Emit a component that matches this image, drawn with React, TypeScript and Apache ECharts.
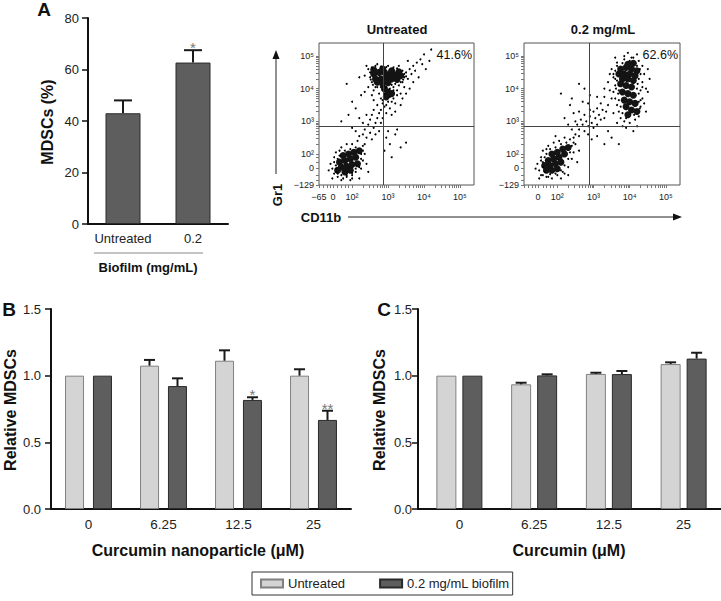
import React, { useEffect, useRef } from 'react';
import * as echarts from 'echarts';

const FONT = '"Liberation Sans", Arial, Helvetica, sans-serif';

// ---------- Panel A ----------
const aCategories = ['Untreated', '0.2'];
const aValues = [43, 62.7];
const aErrTop = [48, 67.5];
const aSig = ['', '*'];

// ---------- Panels B & C ----------
const doseCategories = ['0', '6.25', '12.5', '25'];
const bUntreated = [1.0, 1.075, 1.112, 1.0];
const bUntreatedErr = [1.0, 1.118, 1.19, 1.048];
const bBiofilm = [1.0, 0.922, 0.818, 0.668];
const bBiofilmErr = [1.0, 0.98, 0.838, 0.737];
const bSig = ['', '', '*', '**'];

const cUntreated = [1.0, 0.935, 1.013, 1.087];
const cUntreatedErr = [1.0, 0.947, 1.022, 1.1];
const cBiofilm = [1.0, 1.002, 1.012, 1.128];
const cBiofilmErr = [1.0, 1.01, 1.035, 1.172];

// ---------- Flow cytometry (axis units = decades) ----------
const flowXTicks = [1.08, 1.47, 2, 3, 4, 5];
const flowXTickLabels = ['\u221265', '0', '10\u00b2', '10\u00b3', '10\u2074', '10\u2075'];
const flowYTicks = [1.05, 1.57, 2, 3, 4, 5];
const flowYTickLabels = ['\u2212129', '0', '10\u00b2', '10\u00b3', '10\u2074', '10\u2075'];
const quadrantX = 2.87;
const quadrantY = 2.85;
const flowPercents = ['41.6%', '62.6%'];
const flowTitles = ['Untreated', '0.2 mg/mL'];

const untreatedCore = [
  [2.6, 4.45], [2.75, 4.5], [2.9, 4.5], [3.05, 4.45], [3.2, 4.42], [3.35, 4.4], [2.65, 4.3], [2.8, 4.3],
  [2.95, 4.32], [3.1, 4.3], [3.25, 4.28], [2.7, 4.2], [2.85, 4.15], [3.0, 4.18], [2.6, 4.58], [2.85, 4.6],
  [3.1, 4.55], [3.3, 4.52], [2.9, 4.0], [3.0, 3.9], [2.95, 3.75], [3.1, 3.85],
  [1.65, 1.75], [1.8, 1.8], [1.95, 1.85], [2.1, 1.9], [1.7, 1.6], [1.85, 1.62], [2.0, 1.68], [1.75, 1.95],
  [1.9, 2.0], [2.05, 2.05], [1.6, 1.5], [1.8, 1.45], [1.95, 1.5], [2.15, 1.7], [2.2, 2.1],
];
const untreatedCells = [
  [2.45, 4.6], [2.5, 4.35], [2.55, 4.2], [2.45, 4.05], [2.6, 3.95], [2.7, 4.05], [2.75, 3.85], [2.8, 3.7],
  [2.85, 3.55], [2.9, 3.45], [3.0, 3.6], [3.05, 3.4], [3.15, 3.7], [3.2, 3.55], [3.25, 3.95], [3.3, 4.1],
  [3.4, 4.2], [3.45, 4.35], [3.5, 4.5], [3.55, 4.3], [3.6, 4.6], [3.65, 4.45], [3.7, 4.7], [3.75, 4.55],
  [3.8, 4.8], [3.9, 4.9], [3.95, 4.75], [4.0, 5.05], [4.05, 4.6], [3.85, 4.35], [3.7, 4.2], [3.6, 4.0],
  [3.5, 3.85], [3.4, 3.7], [3.35, 3.5], [3.2, 3.3], [3.1, 3.2], [2.95, 3.25], [2.8, 3.35], [2.7, 3.5],
  [2.6, 3.65], [2.55, 3.8], [2.4, 4.7], [2.7, 4.75], [3.0, 4.7], [3.3, 4.7], [2.35, 4.4], [3.45, 4.05],
  [3.15, 4.05], [2.95, 4.05], [3.35, 3.85], [2.35, 3.9], [4.15, 4.85], [4.2, 5.2], [3.55, 4.85], [2.2, 4.35],
  [2.5, 4.5], [2.55, 4.65], [2.65, 4.7], [2.8, 4.68], [2.95, 4.66], [3.15, 4.65], [3.25, 4.62], [3.4, 4.55],
  [3.45, 4.45], [3.5, 4.38], [3.42, 4.28], [3.35, 4.2], [3.2, 4.15], [3.1, 4.12], [2.52, 4.28], [2.58, 4.12],
  [2.65, 4.05], [2.8, 4.05], [2.85, 3.95], [3.05, 4.0], [3.15, 3.95], [2.9, 3.85], [3.05, 3.75], [2.85, 3.65],
  [3.1, 3.6], [2.95, 3.5], [3.25, 3.8],
  [1.4, 1.7], [1.45, 1.55], [1.5, 1.4], [1.5, 1.9], [1.55, 2.05], [1.6, 1.3], [1.7, 1.2], [1.85, 1.3],
  [2.0, 1.35], [2.1, 1.45], [2.25, 1.55], [2.3, 1.8], [2.35, 2.0], [2.3, 2.25], [1.7, 2.2], [1.85, 2.3],
  [2.0, 2.3], [2.15, 2.4], [1.55, 1.65], [1.65, 2.1], [2.4, 1.7], [1.45, 1.25], [1.35, 1.5], [2.45, 1.45],
  [1.95, 1.2], [2.2, 1.25],
  [1.5, 1.75], [1.55, 1.55], [1.6, 1.4], [1.7, 1.35], [1.85, 1.35], [2.0, 1.42], [2.1, 1.55], [2.2, 1.6],
  [2.25, 1.85], [2.25, 2.0], [2.1, 2.2], [1.95, 2.15], [1.8, 2.1], [1.65, 1.95], [1.6, 1.85], [2.3, 2.1],
  [2.35, 2.3], [2.0, 1.25], [1.75, 1.25], [1.55, 1.45],
  [2.2, 2.55], [2.3, 2.6], [2.35, 2.75], [2.45, 2.9], [2.5, 3.05], [2.55, 3.2], [2.6, 3.35], [2.4, 2.5],
  [2.5, 2.65], [2.6, 2.8], [2.65, 2.95], [2.7, 3.1], [2.75, 3.25], [2.3, 2.95], [2.4, 3.2], [2.2, 3.1],
  [2.55, 2.45], [2.65, 2.6], [2.75, 2.7], [2.8, 2.95], [2.85, 3.1], [2.1, 2.7], [2.0, 2.8],
  [2.95, 2.5], [3.05, 2.3], [3.2, 2.6], [3.35, 2.2], [3.5, 2.35], [3.1, 1.9], [3.0, 2.7], [3.25, 2.75], [2.9, 2.1],
  [1.9, 3.2], [2.1, 3.4], [1.7, 3.0], [2.0, 3.6], [2.25, 3.8], [1.85, 4.15],
];

const biofilmCore = [
  [3.75, 4.6], [3.9, 4.65], [4.05, 4.6], [4.2, 4.55], [3.7, 4.45], [3.85, 4.45], [4.0, 4.45], [4.15, 4.4],
  [3.8, 4.3], [3.95, 4.3], [4.1, 4.25], [3.75, 4.15], [3.9, 4.1], [4.05, 4.05], [3.95, 4.75], [4.1, 4.78],
  [3.8, 3.9], [3.95, 3.85], [4.1, 3.8], [3.85, 3.65], [4.0, 3.6], [4.15, 3.55], [3.9, 3.45], [4.05, 3.35],
  [4.2, 3.3], [3.95, 3.2],
  [1.75, 1.8], [1.9, 1.85], [2.05, 1.9], [2.2, 2.0], [1.8, 1.65], [1.95, 1.7], [2.1, 1.75], [1.85, 2.0],
  [2.0, 2.05], [2.15, 2.15], [1.7, 1.5], [1.85, 1.5], [2.0, 1.55], [2.3, 2.2], [1.65, 1.65],
];
const biofilmCells = [
  [3.5, 4.6], [3.55, 4.35], [3.6, 4.1], [3.55, 3.9], [3.6, 3.7], [3.65, 3.5], [3.7, 3.3], [3.75, 3.1],
  [3.85, 3.0], [4.0, 2.95], [4.15, 3.05], [4.25, 3.15], [4.3, 3.45], [4.35, 3.7], [4.3, 3.95], [4.35, 4.2],
  [4.4, 4.45], [4.35, 4.7], [4.25, 4.85], [4.05, 4.95], [3.85, 4.9], [3.65, 4.8], [3.45, 4.45], [3.4, 4.2],
  [3.45, 3.95], [3.5, 3.7], [3.4, 3.5], [3.55, 3.25], [3.9, 2.8], [4.1, 2.7], [4.2, 2.85], [4.45, 3.3],
  [4.5, 3.9], [4.55, 4.3], [4.5, 4.6], [4.2, 5.05], [3.95, 5.1], [3.6, 4.95], [3.3, 4.0], [3.3, 3.75],
  [3.35, 3.3], [3.65, 2.95], [4.45, 4.0], [4.25, 3.6], [3.7, 3.95], [3.65, 4.25], [4.4, 3.55], [3.8, 2.85],
  [3.6, 4.55], [3.65, 4.7], [3.8, 4.78], [4.0, 4.85], [4.2, 4.7], [4.28, 4.6], [4.3, 4.45], [4.25, 4.3],
  [4.22, 4.15], [4.2, 4.0], [4.25, 3.85], [4.3, 3.65], [4.28, 3.4], [4.12, 3.2], [3.9, 3.1], [3.8, 3.25],
  [3.75, 3.45], [3.7, 3.65], [3.68, 3.85], [3.62, 4.0], [3.6, 4.3], [3.7, 4.1], [4.1, 4.95], [3.85, 5.0],
  [3.55, 4.45], [4.35, 4.05],
  [1.45, 1.7], [1.5, 1.5], [1.55, 1.35], [1.55, 1.9], [1.6, 2.1], [1.7, 1.3], [1.85, 1.25], [2.0, 1.35],
  [2.15, 1.45], [2.3, 1.6], [2.4, 1.85], [2.45, 2.05], [2.5, 2.3], [2.45, 2.5], [1.75, 2.25], [1.9, 2.35],
  [2.05, 2.4], [2.2, 2.5], [2.35, 2.45], [1.6, 1.75], [1.7, 2.15], [2.55, 1.75], [1.5, 1.25], [1.4, 1.55],
  [2.6, 2.1], [2.1, 1.25], [2.3, 1.35], [1.95, 2.55],
  [1.55, 1.8], [1.6, 1.6], [1.65, 1.45], [1.8, 1.38], [1.95, 1.4], [2.1, 1.5], [2.2, 1.65], [2.3, 1.85],
  [2.35, 2.05], [2.4, 2.25], [2.25, 2.35], [2.1, 2.3], [1.95, 2.2], [1.8, 2.15], [1.7, 2.0], [1.65, 1.9],
  [2.45, 2.35], [2.2, 1.4], [1.75, 1.3], [1.6, 1.35],
  [2.5, 2.6], [2.6, 2.75], [2.7, 2.9], [2.8, 3.0], [2.9, 3.15], [3.0, 3.3], [3.1, 3.4], [3.2, 3.55],
  [2.6, 2.55], [2.75, 2.7], [2.85, 2.85], [2.95, 2.95], [3.05, 3.1], [3.15, 3.2], [3.25, 3.35], [2.55, 2.9],
  [2.65, 3.05], [2.75, 3.2], [2.9, 3.35], [3.0, 2.8], [3.1, 2.9], [3.2, 3.05], [2.4, 2.75], [2.5, 3.0],
  [2.85, 2.6], [3.3, 3.1], [2.95, 2.45], [3.1, 2.55], [3.4, 2.7], [2.3, 2.9], [2.6, 3.3], [2.45, 3.25],
  [2.2, 3.1], [3.5, 2.5], [3.7, 2.3], [3.3, 2.3], [2.85, 3.55], [2.7, 3.6], [2.35, 3.5],
  [2.4, 3.7], [2.1, 3.85], [2.9, 3.8], [2.6, 4.15], [3.1, 3.75], [2.75, 4.0],
];

const LIGHT = '#d4d4d4';
const LIGHT_BORDER = '#808080';
const DARK = '#5e5e5e';
const DARK_BORDER = '#2a2a2a';

function errorSeries(xi: number, yi: number, values: number[], tops: number[], offset: number, capW: number, sig: string[] | null) {
  return {
    type: 'custom',
    xAxisIndex: xi,
    yAxisIndex: yi,
    silent: true,
    z: 5,
    data: values.map((v, i) => [i, v, tops[i]]),
    renderItem: (params: any, api: any) => {
      const i = api.value(0);
      const v = api.value(1);
      const t = api.value(2);
      const base = api.coord([i, v]);
      const top = api.coord([i, t]);
      const cx = base[0] + offset;
      const children: any[] = [];
      if (t > v) {
        children.push({ type: 'line', shape: { x1: cx, y1: base[1], x2: cx, y2: top[1] }, style: { stroke: '#1a1a1a', lineWidth: 2 } });
        children.push({ type: 'line', shape: { x1: cx - capW / 2, y1: top[1], x2: cx + capW / 2, y2: top[1] }, style: { stroke: '#1a1a1a', lineWidth: 2 } });
      }
      const s = sig ? sig[params.dataIndex] : '';
      if (s) {
        children.push({ type: 'text', x: cx, y: top[1] + 5, style: { text: s, fill: '#777', fontSize: 15, fontFamily: FONT, align: 'center', verticalAlign: 'bottom' } });
      }
      return { type: 'group', children };
    },
  };
}

const minorTicks: number[] = [1.08, 1.2, 1.3, 1.4, 1.47, 1.6, 1.7, 1.8, 1.9];
[2, 3, 4].forEach((d) => {
  minorTicks.push(d);
  for (let k = 2; k <= 9; k++) minorTicks.push(d + Math.log10(k));
});
minorTicks.push(5);

function flowAxes(grid: number, showNeg: boolean) {
  const xVals = showNeg ? flowXTicks : flowXTicks.slice(1);
  const xAxis = {
    type: 'value', gridIndex: grid, min: 1.08, max: 5.39,
    axisLine: { show: false },
    splitLine: { show: false },
    axisTick: { show: true, inside: false, length: 3, customValues: minorTicks, lineStyle: { color: '#777', width: 1 } },
    axisLabel: {
      customValues: xVals, fontSize: 9, color: '#222', margin: 7, fontFamily: FONT,
      formatter: (v: number) => {
        const k = flowXTicks.findIndex((t) => Math.abs(t - v) < 1e-6);
        return k >= 0 ? flowXTickLabels[k] : '';
      },
    },
  };
  const yTickVals = [1.05, 1.2, 1.35, 1.57, 1.75, 1.9, ...minorTicks.filter((t) => t >= 2)];
  const yAxis = {
    type: 'value', gridIndex: grid, min: 1.05, max: 5.4,
    axisLine: { show: false },
    splitLine: { show: false },
    axisTick: { show: true, inside: false, length: 3, customValues: yTickVals, lineStyle: { color: '#777', width: 1 } },
    axisLabel: {
      customValues: flowYTicks, fontSize: 9, color: '#222', margin: 5, fontFamily: FONT,
      formatter: (v: number) => {
        const k = flowYTicks.findIndex((t) => Math.abs(t - v) < 1e-6);
        return k >= 0 ? flowYTickLabels[k] : '';
      },
    },
  };
  return { xAxis, yAxis };
}

function flowSeries(grid: number, core: number[][], cells: number[][]) {
  return [
    {
      type: 'scatter', xAxisIndex: grid, yAxisIndex: grid, silent: true,
      data: core, symbol: 'circle', symbolSize: 7,
      itemStyle: { color: '#141414', opacity: 1 },
    },
    {
      type: 'scatter', xAxisIndex: grid, yAxisIndex: grid, silent: true,
      data: cells, symbol: 'circle', symbolSize: 2,
      itemStyle: { color: '#000', opacity: 1 },
      markLine: {
        silent: true, symbol: 'none', label: { show: false },
        lineStyle: { color: '#444', width: 1, type: 'solid' },
        data: [{ xAxis: quadrantX }, { yAxis: quadrantY }],
      },
    },
  ];
}

export default function App() {
  const ref = useRef<HTMLDivElement>(null);
  useEffect(() => {
    if (!ref.current) return;
    const chart = echarts.init(ref.current, null, { renderer: 'svg' });
    const f1 = flowAxes(1, true);
    const f2 = flowAxes(2, false);
    const barAxisLine = { lineStyle: { color: '#111', width: 2 } };
    const barTick = { lineStyle: { color: '#111', width: 1.5 }, length: 6 };
    const catAxis = (grid: number, data: string[], fontSize: number) => ({
      type: 'category', gridIndex: grid, data,
      axisLine: barAxisLine,
      axisTick: { ...barTick, alignWithLabel: true, length: 5 },
      axisLabel: { fontSize, color: '#222', margin: 8, fontFamily: FONT, interval: 0 },
      splitLine: { show: false },
    });
    const relAxis = (grid: number, offset: number, margin: number) => ({
      type: 'value', gridIndex: grid, min: 0, max: 1.5, interval: 0.5, offset,
      axisLine: { show: true, ...barAxisLine },
      axisTick: { show: true, ...barTick },
      axisLabel: { fontSize: 13, color: '#222', margin, fontFamily: FONT, formatter: (v: number) => v.toFixed(1) },
      splitLine: { show: false },
    });
    const titleText = (text: string, x: number, y: number, size: number, rotate = false, weight = 'bold', align = 'center') => ({
      type: 'text', x, y, rotation: rotate ? Math.PI / 2 : 0,
      style: { text, fontSize: size, fontWeight: weight, fontFamily: FONT, fill: '#111', align, verticalAlign: 'middle' },
    });

    const option: any = {
      animation: false,
      textStyle: { fontFamily: FONT },
      grid: [
        { left: 88, top: 18, width: 140, height: 206 },
        { left: 319, top: 43, width: 155, height: 142, show: true, borderColor: '#555', borderWidth: 1 },
        { left: 524, top: 43, width: 156, height: 142, show: true, borderColor: '#555', borderWidth: 1 },
        { left: 51, top: 309, width: 300, height: 200 },
        { left: 422, top: 309, width: 299, height: 200 },
      ],
      xAxis: [
        catAxis(0, aCategories, 13),
        f1.xAxis,
        f2.xAxis,
        catAxis(3, doseCategories, 13.5),
        catAxis(4, doseCategories, 13.5),
      ],
      yAxis: [
        {
          type: 'value', gridIndex: 0, min: 0, max: 80, interval: 20,
          axisLine: { show: true, ...barAxisLine },
          axisTick: { show: true, ...barTick },
          axisLabel: { fontSize: 13, color: '#222', margin: 9, fontFamily: FONT },
          splitLine: { show: false },
        },
        f1.yAxis,
        f2.yAxis,
        relAxis(3, 0, 10),
        relAxis(4, 4, 6),
      ],
      legend: {
        left: 252, top: 572, orient: 'horizontal',
        padding: [5, 3, 5, 8], itemGap: 34, itemWidth: 22, itemHeight: 8,
        borderColor: '#333', borderWidth: 1, borderRadius: 0,
        icon: 'rect', selectedMode: false,
        textStyle: { fontSize: 13, color: '#222', fontFamily: FONT },
        data: ['Untreated', '0.2 mg/mL biofilm'],
      },
      series: [
        {
          name: 'MDSCs', type: 'bar', xAxisIndex: 0, yAxisIndex: 0, barWidth: 35, data: aValues,
          itemStyle: { color: DARK, borderColor: DARK_BORDER, borderWidth: 1 },
        },
        errorSeries(0, 0, aValues, aErrTop, 0, 18, aSig),
        ...flowSeries(1, untreatedCore, untreatedCells),
        ...flowSeries(2, biofilmCore, biofilmCells),
        {
          name: 'Untreated', type: 'bar', xAxisIndex: 3, yAxisIndex: 3, barWidth: 19, barGap: '47%', data: bUntreated,
          itemStyle: { color: LIGHT, borderColor: LIGHT_BORDER, borderWidth: 1 },
        },
        {
          name: '0.2 mg/mL biofilm', type: 'bar', xAxisIndex: 3, yAxisIndex: 3, barWidth: 19, barGap: '47%', data: bBiofilm,
          itemStyle: { color: DARK, borderColor: DARK_BORDER, borderWidth: 1 },
        },
        errorSeries(3, 3, bUntreated, bUntreatedErr, -14, 11, null),
        errorSeries(3, 3, bBiofilm, bBiofilmErr, 14, 11, bSig),
        {
          name: 'Untreated', type: 'bar', xAxisIndex: 4, yAxisIndex: 4, barWidth: 20, barGap: '30%', data: cUntreated,
          itemStyle: { color: LIGHT, borderColor: LIGHT_BORDER, borderWidth: 1 },
        },
        {
          name: '0.2 mg/mL biofilm', type: 'bar', xAxisIndex: 4, yAxisIndex: 4, barWidth: 20, barGap: '30%', data: cBiofilm,
          itemStyle: { color: DARK, borderColor: DARK_BORDER, borderWidth: 1 },
        },
        errorSeries(4, 4, cUntreated, cUntreatedErr, -13, 11, null),
        errorSeries(4, 4, cBiofilm, cBiofilmErr, 13, 11, null),
      ],
      graphic: [
        titleText('A', 44, 9, 19),
        titleText('B', 9, 309, 19),
        titleText('C', 384, 309, 19),
        titleText('MDSCs (%)', 47, 122, 16, true),
        { type: 'line', shape: { x1: 94, y1: 253, x2: 203, y2: 253 }, style: { stroke: '#888', lineWidth: 1 } },
        titleText('Biofilm (mg/mL)', 148, 267, 13),
        titleText(flowTitles[0], 397, 29, 13),
        titleText(flowTitles[1], 603, 29, 13),
        titleText(flowPercents[0], 472, 55, 12.5, false, 'normal', 'right'),
        titleText(flowPercents[1], 678, 55, 12.5, false, 'normal', 'right'),
        { type: 'line', shape: { x1: 276, y1: 174, x2: 276, y2: 57 }, style: { stroke: '#222', lineWidth: 1 } },
        { type: 'polygon', shape: { points: [[276, 50], [272.5, 59], [279.5, 59]] }, style: { fill: '#111' } },
        titleText('Gr1', 277, 195, 13, true),
        titleText('CD11b', 321, 217, 13),
        { type: 'line', shape: { x1: 348, y1: 217, x2: 675, y2: 217 }, style: { stroke: '#222', lineWidth: 1 } },
        { type: 'polygon', shape: { points: [[682, 217], [673, 213.5], [673, 220.5]] }, style: { fill: '#111' } },
        titleText('Relative MDSCs', 10, 410, 16, true),
        titleText('Relative MDSCs', 379, 410, 16, true),
        titleText('Curcumin nanoparticle (\u03bcM)', 198, 550, 16),
        titleText('Curcumin (\u03bcM)', 569, 550, 16),
        { type: 'line', shape: { x1: 417, y1: 509, x2: 423, y2: 509 }, style: { stroke: '#111', lineWidth: 2 } },
      ],
    };
    chart.setOption(option);
    return () => chart.dispose();
  }, []);
  return <div ref={ref} style={{ position: 'absolute', left: 0, top: 0, width: 721, height: 601, background: '#fff' }} />;
}
